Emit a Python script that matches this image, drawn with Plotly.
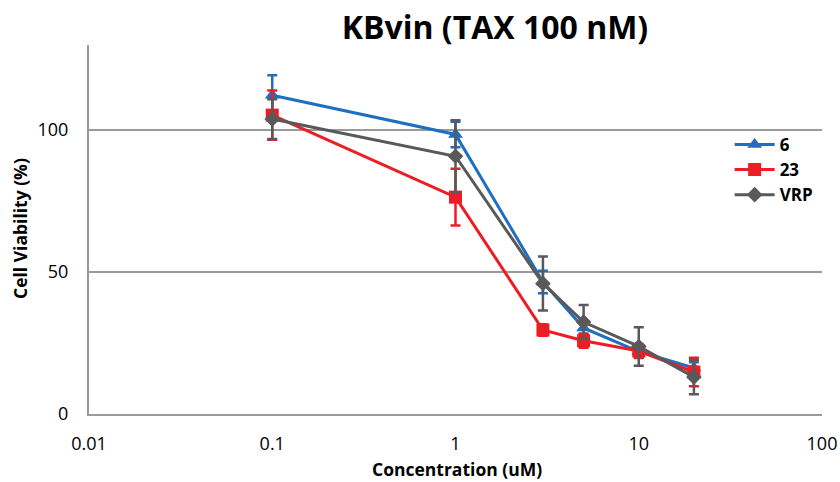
import plotly.graph_objects as go

conc = [0.1, 1, 3, 5, 10, 20]

s6 = [112.3, 98.5, 46.5, 30.3, 22.0, 16.2]
s6_err = [7.0, 4.5, 4.0, 2.0, 2.0, 2.0]

s23 = [105.3, 76.4, 29.6, 25.8, 22.2, 14.8]
s23_err = [8.7, 10.0, 2.0, 2.5, 2.5, 5.0]

vrp = [103.9, 90.8, 46.0, 32.4, 23.8, 13.0]
vrp_err = [7.0, 12.7, 9.5, 6.0, 6.8, 6.0]

x_ticks = [0.01, 0.1, 1, 10, 100]
x_ticktext = ["0.01", "0.1", "1", "10", "100"]
y_ticks = [0, 50, 100]

series = [
    ("6", s6, s6_err, "#1F6FC0", "triangle-up", 13),
    ("23", s23, s23_err, "#EE1C25", "square", 13),
    ("VRP", vrp, vrp_err, "#595959", "diamond", 12),
]

fig = go.Figure()
for name, ys, errs, color, sym, size in series:
    fig.add_trace(go.Scatter(
        x=conc, y=ys, name="<b>" + name + "</b>", mode="lines+markers",
        line=dict(color=color, width=3),
        marker=dict(symbol=sym, size=size, color=color),
        error_y=dict(type="data", array=errs, visible=True,
                     color=color, thickness=2.5, width=5),
    ))

fig.update_layout(
    width=840, height=482,
    margin=dict(l=89, r=18, t=45, b=68, autoexpand=False),
    paper_bgcolor="white", plot_bgcolor="white",
    title=dict(text="<b>KBvin (TAX 100 nM)</b>", x=495 / 840, xanchor="center",
               y=1 - 28 / 482, yanchor="middle",
               font=dict(family="Open Sans", size=32, color="black")),
    font=dict(family="Open Sans", color="black"),
    legend=dict(x=0.874, y=0.778, xanchor="left", yanchor="top",
                font=dict(family="Open Sans", size=17, color="black"),
                bgcolor="rgba(0,0,0,0)", itemwidth=40),
    showlegend=True,
    annotations=[
        dict(text="<b>Concentration (uM)</b>", xref="paper", yref="paper",
             x=0.502, y=-(469 - 414) / 369, xanchor="center", yanchor="middle",
             showarrow=False,
             font=dict(family="Open Sans", size=17.5, color="black")),
        dict(text="<b>Cell Viability (%)</b>", xref="paper", yref="paper",
             x=-(89 - 20) / 733, y=(414 - 229) / 369, xanchor="center",
             yanchor="middle", textangle=-90, showarrow=False,
             font=dict(family="Open Sans", size=17.5, color="black")),
    ],
)
fig.update_xaxes(
    type="log", range=[-2, 2], automargin=False,
    tickvals=x_ticks, ticktext=x_ticktext,
    tickfont=dict(family="Open Sans", size=18, color="black"),
    showgrid=False, showline=True, linecolor="#9A9A9A", linewidth=2,
    ticks="", ticklabelstandoff=12, zeroline=False,
)
fig.update_yaxes(
    range=[0, 130], tickvals=y_ticks, automargin=False,
    tickfont=dict(family="Open Sans", size=18, color="black"),
    showgrid=True, gridcolor="#9A9A9A", gridwidth=2,
    showline=True, linecolor="#9A9A9A", linewidth=2,
    ticks="", ticklabelstandoff=15, zeroline=False,
)

fig.write_html("out.html")
